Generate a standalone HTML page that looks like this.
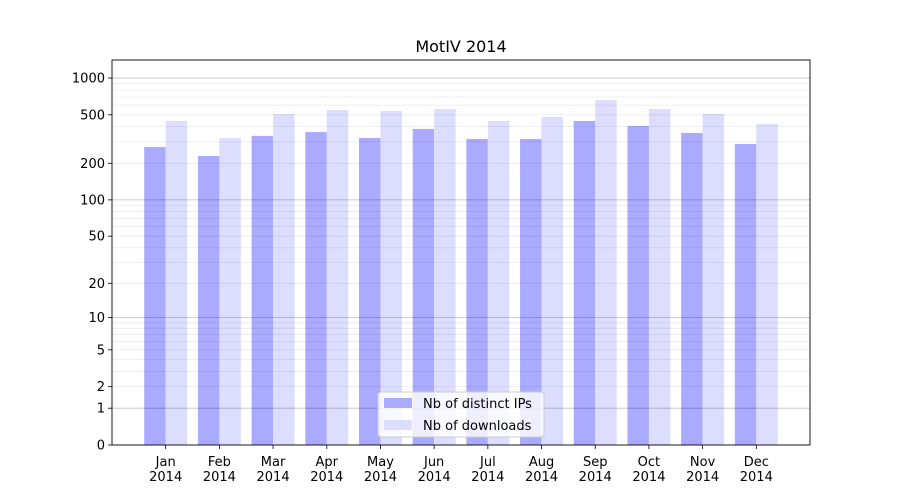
<!DOCTYPE html>
<html><head><meta charset="utf-8"><style>
body{margin:0;background:#fff;}
svg{display:block;font-family:"DejaVu Sans","Liberation Sans",sans-serif;}
</style></head><body>
<svg id="chart" width="900" height="500"></svg>
<script>
const months=["Jan","Feb","Mar","Apr","May","Jun","Jul","Aug","Sep","Oct","Nov","Dec"];
const distinctIPs=[272,230,336,361,323,383,317,317,445,405,355,288];
const downloads=[445,323,508,547,537,558,445,480,662,558,508,421];
const yTicks=[0,1,2,5,10,20,50,100,200,500,1000];
const majorGrid=[1,10,100,1000];
const minorGrid=[2,3,4,5,6,7,8,9,20,30,40,50,60,70,80,90,200,300,400,500,600,700,800,900];
const NS="http://www.w3.org/2000/svg";
const svg=document.getElementById('chart');
const L=112,R=810,T=60,B=445;
const ymax=Math.log10(1+1405);
function y(v){return B-(B-T)*Math.log10(1+v)/ymax;}
function x(i){return L+(R-L)*(i+1)/13;}
function mk(t,a,p){const e=document.createElementNS(NS,t);for(const k in a)e.setAttribute(k,a[k]);(p||svg).appendChild(e);return e;}
const bw=(R-L)/13*0.4;
months.forEach((m,i)=>{
 const b1=mk('rect',{x:x(i)-bw,y:y(distinctIPs[i]),width:bw,height:B-y(distinctIPs[i]),fill:'#aaaaff'});
 
 
 const b2=mk('rect',{x:x(i),y:y(downloads[i]),width:bw,height:B-y(downloads[i]),fill:'#ddddff'});
 
 
 mk('line',{x1:x(i),x2:x(i),y1:B,y2:B+4,stroke:'#000','stroke-width':0.8});
 const t=mk('text',{x:x(i),y:B+21,'text-anchor':'middle','font-size':13});
 t.textContent=m;
 
 
 const t2=mk('text',{x:x(i),y:B+36,'text-anchor':'middle','font-size':13});
 t2.textContent='2014';
 
 
});
minorGrid.forEach(v=>{const l=mk('line',{x1:L,x2:R,y1:y(v),y2:y(v),stroke:'#000','stroke-opacity':0.08,'stroke-width':0.8});

});
majorGrid.forEach(v=>{const l=mk('line',{x1:L,x2:R,y1:y(v),y2:y(v),stroke:'#000','stroke-opacity':0.25,'stroke-width':0.8});

});
yTicks.forEach(v=>{
 mk('line',{x1:L-4,x2:L,y1:y(v),y2:y(v),stroke:'#000','stroke-width':0.8});
 const t=mk('text',{x:L-7,y:y(v)+4.5,'text-anchor':'end','font-size':13});
 t.textContent=v;
 
 
});
const f=mk('rect',{x:L,y:T,width:R-L,height:B-T,fill:'none',stroke:'#000','stroke-width':0.9});


const ti=mk('text',{x:461,y:52,'text-anchor':'middle','font-size':16});
ti.textContent='MotIV 2014';


const lg=mk('g',{});


mk('rect',{x:378,y:392,width:166,height:45,rx:3,fill:'#fff','fill-opacity':0.8,stroke:'#ccc'},lg);
mk('rect',{x:384,y:398,width:28,height:10,fill:'#aaaaff'},lg);
mk('rect',{x:384,y:420,width:28,height:10,fill:'#ddddff'},lg);
const l1=mk('text',{x:423,y:408,'font-size':13},lg);l1.textContent='Nb of distinct IPs';


const l2=mk('text',{x:423,y:430,'font-size':13},lg);l2.textContent='Nb of downloads';


</script>
</body></html>
